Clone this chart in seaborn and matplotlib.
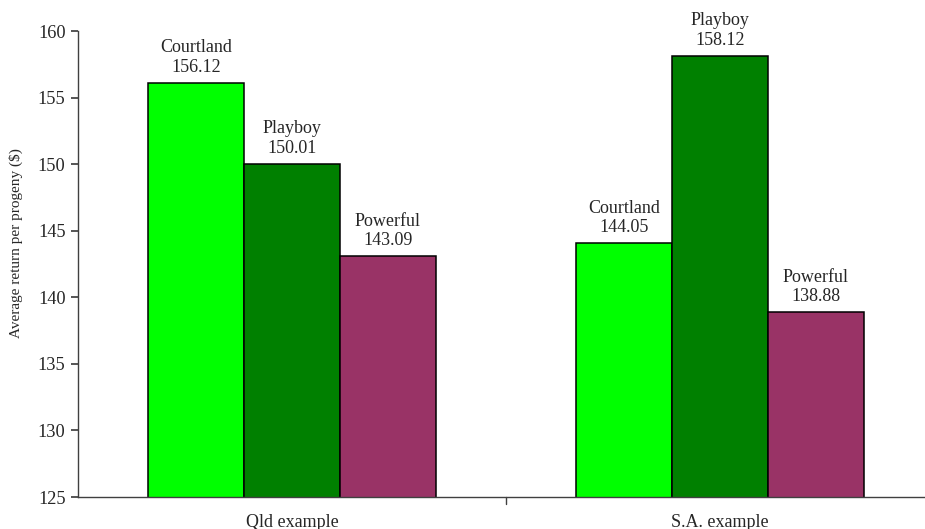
import matplotlib
matplotlib.use("Agg")
import matplotlib.pyplot as plt
import seaborn as sns
import pandas as pd

# Average return per progeny ($) for each bull, two example regions
regions = ["Qld example", "S.A. example"]
bulls = ["Courtland", "Playboy", "Powerful"]
qld_values = [156.12, 150.01, 143.09]
sa_values = [144.05, 158.12, 138.88]
colors = ["#00FF00", "#008000", "#993366"]
y_ticks = [125, 130, 135, 140, 145, 150, 155, 160]

df = pd.DataFrame({
    "region": [regions[0]] * 3 + [regions[1]] * 3,
    "bull": bulls * 2,
    "value": qld_values + sa_values,
})

sns.set_theme(style="white")
plt.rcParams["font.family"] = ["Liberation Serif", "DejaVu Serif"]

fig = plt.figure(figsize=(9.25, 5.29), dpi=100)
ax = fig.add_axes([78 / 925, 32 / 529, 856 / 925, 466 / 529])

sns.barplot(data=df, x="region", y="value", hue="bull", order=regions,
            hue_order=bulls, palette=colors, saturation=1, width=0.672,
            gap=0, edgecolor="black", linewidth=1.1, legend=False, ax=ax,
            errorbar=None)

ax.set_ylim(125, 160)
ax.set_yticks(y_ticks)
ax.set_xlim(-0.5, 1.5)
ax.set_xticks([0, 1])
ax.set_xticklabels(regions, fontsize=13)
ax.tick_params(axis="x", length=0, pad=12)
ax.tick_params(axis="y", labelsize=13.2, length=5, direction="out",
               left=True, color="#404040", pad=4)
# category separator on the x axis
for xs in [0.5]:
    ax.plot([xs, xs], [0, -0.014], transform=ax.get_xaxis_transform(),
            color="#404040", lw=1, clip_on=False)

ax.set_xlabel("")
ax.set_ylabel("Average return per progeny ($)", fontsize=11)
ax.yaxis.set_label_coords(-0.064, 0.545)

for side in ["top", "right"]:
    ax.spines[side].set_visible(False)
for side in ["left", "bottom"]:
    ax.spines[side].set_color("#404040")
    ax.spines[side].set_linewidth(1)

for bull, cont in zip(bulls, ax.containers):
    vals = [b.get_height() for b in cont]
    ax.bar_label(cont, labels=[f"{bull}\n{v:.2f}" for v in vals],
                 padding=5, fontsize=13, linespacing=1.2)

fig.savefig("out.png", dpi=100)
